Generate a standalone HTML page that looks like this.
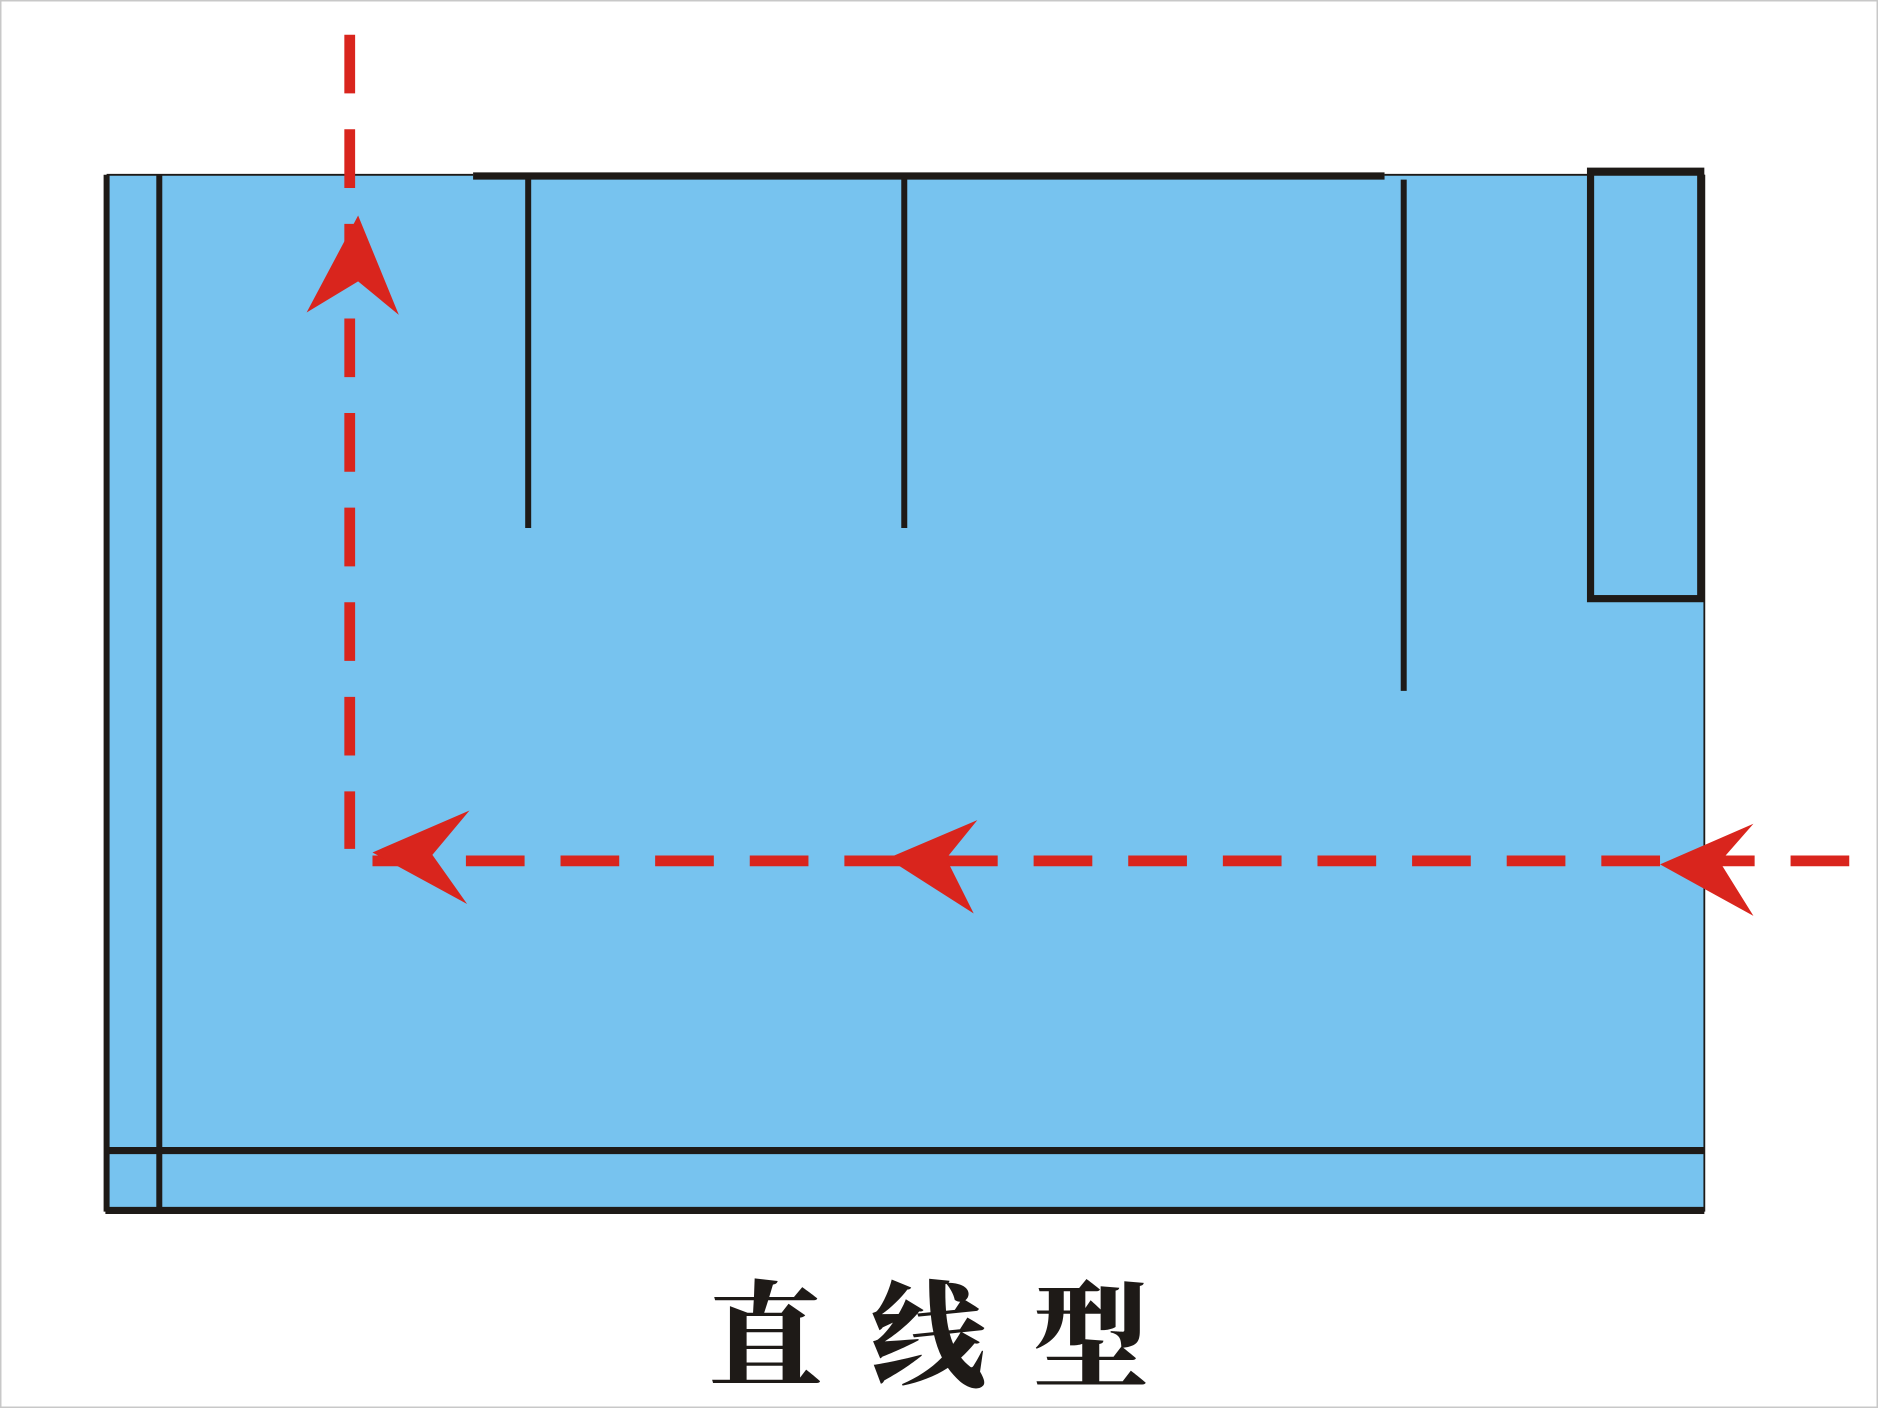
<!DOCTYPE html>
<html><head><meta charset="utf-8"><style>
html,body{margin:0;padding:0;background:#fff;overflow:hidden;}
svg{display:block;}
</style></head><body>
<svg width="1878" height="1408" viewBox="0 0 1568 1176" preserveAspectRatio="none" xmlns="http://www.w3.org/2000/svg">
<rect x="0.5" y="0.5" width="1567" height="1175" fill="#fff" stroke="#c8c8c8" stroke-width="1.5"/>
<rect x="89" y="146" width="1334" height="866" fill="#77c3ef"/>
<g stroke="#1e1a17" fill="none">
<line x1="89" y1="146" x2="89" y2="1012" stroke-width="5"/>
<line x1="133" y1="146" x2="133" y2="1012" stroke-width="5"/>
<line x1="89" y1="146" x2="395" y2="146" stroke-width="1.5"/>
<line x1="1156" y1="146" x2="1423" y2="146" stroke-width="1.5"/>
<line x1="395" y1="147" x2="1156" y2="147" stroke-width="6"/>
<line x1="441" y1="147" x2="441" y2="441" stroke-width="5"/>
<line x1="755" y1="147" x2="755" y2="441" stroke-width="5"/>
<line x1="1172" y1="150" x2="1172" y2="577" stroke-width="5"/>
<rect x="1328" y="143" width="92" height="357" stroke-width="6"/>
<line x1="1423" y1="146" x2="1423" y2="1012" stroke-width="1.5"/>
<line x1="88" y1="961" x2="1423" y2="961" stroke-width="6"/>
<line x1="88" y1="1011" x2="1423" y2="1011" stroke-width="6"/>
</g>
<g stroke="#d9251d" stroke-width="9" fill="none">
<line x1="292" y1="29" x2="292" y2="709" stroke-dasharray="49 30"/>
<line x1="1544" y1="719" x2="311" y2="719" stroke-dasharray="49 30"/>
</g>
<g fill="#d9251d">
<polygon points="299,180 333,263 299,235 256,261"/>
<polygon points="311,712 392,677 361,714 390,755"/>
<polygon points="741,717 816,685 790,717 813,763"/>
<polygon points="1386,722 1464,688 1436,720 1464,765"/>
</g>
<text x="795" y="1150" text-anchor="middle" font-family="'Noto Serif CJK SC','Noto Sans CJK SC',serif" font-weight="900" font-size="96" letter-spacing="40" fill="#1e1a17">直线型</text>
</svg>
</body></html>
